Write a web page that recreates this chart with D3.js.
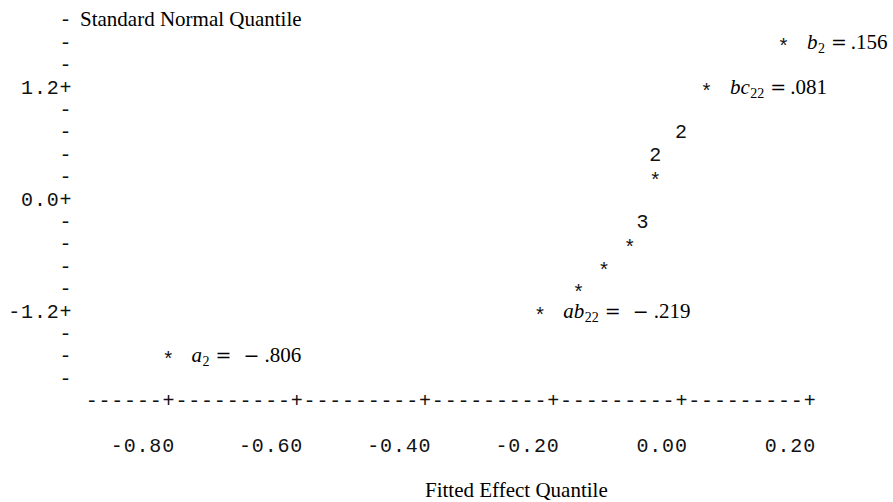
<!DOCTYPE html>
<html>
<head>
<meta charset="utf-8">
<script src="https://cdn.jsdelivr.net/npm/d3@7"></script>
<style>
  body { margin: 0; background: #fff; }
  .mono { font-family: "Liberation Mono", monospace; font-size: 20px; letter-spacing: 0.82px; fill: #111; }
  .serif { font-family: "Liberation Serif", serif; font-size: 21px; white-space: pre; }
  .op { font-family: "DejaVu Serif", serif; font-size: 19px; }
</style>
</head>
<body>
<div id="chart"></div>
<script>
// plotted effects: fitted effect (x) vs standard normal quantile (y), symbol = count
var pointX = [0.16, 0.04, 0.00, -0.04, -0.04, -0.06, -0.08, -0.12, -0.16, -0.22, -0.80];
var pointY = [1.68, 1.20, 0.72, 0.48, 0.24, -0.24, -0.48, -0.72, -0.96, -1.20, -1.68];
var pointSym = ['*', '*', '2', '2', '*', '3', '*', '*', '*', '*', '*'];

// labelled effects
var labelPoint = [0, 1, 9, 10];
var labelName = ['b', 'bc', 'ab', 'a'];
var labelSub = ['2', '22', '22', '2'];
var labelNeg = [false, false, true, true];
var labelValue = ['.156', '.081', '.219', '.806'];

var xTicks = [-0.80, -0.60, -0.40, -0.20, 0.00, 0.20];
var xTickLabels = ['-0.80', '-0.60', '-0.40', '-0.20', '0.00', '0.20'];
var yTicks = [1.2, 0.0, -1.2];
var yTickLabels = ['1.2', '0.0', '-1.2'];

var width = 893;
var height = 502;

// character grid of the line printer plot
var cw = 12.82;
var rh = 22.4;
var col0 = 66;
var row0 = 19.4;
function colX(c) { return col0 + c * cw; }
function rowY(r) { return row0 + r * rh; }

var svg = d3.select('#chart')
    .append('svg')
    .attr('width', width)
    .attr('height', height);

var x = d3.scaleLinear()
    .domain([-0.80, 0.20])
    .range([colX(8), colX(58)]);

var y = d3.scaleLinear()
    .domain([1.92, -1.92])
    .range([rowY(0), rowY(16)]);

var monoDy = 7;
var starDy = 11;

// vertical axis: one mark per text row
var yRows = d3.range(17).map(function(r) { return 1.92 - 0.24 * r; });

svg.selectAll('text.ymark')
    .data(yRows)
    .enter()
    .append('text')
    .attr('class', 'mono ymark')
    .attr('text-anchor', 'end')
    .attr('x', colX(0) + cw / 2)
    .attr('y', function(d) { return y(d) + monoDy; })
    .text(function(d) {
        var i = yTicks.findIndex(function(t) { return Math.abs(t - d) < 1e-6; });
        return i >= 0 ? yTickLabels[i] + '+' : '-';
    });

svg.append('text')
    .attr('class', 'serif')
    .attr('x', 80)
    .attr('y', y(1.92) + 7)
    .text('Standard Normal Quantile');

// horizontal axis line
var axisStr = '------+';
for (var k = 1; k < xTicks.length; k++) axisStr += '---------+';
svg.append('text')
    .attr('class', 'mono')
    .attr('x', x(-0.80) - 6 * cw - 6)
    .attr('y', rowY(17) + monoDy)
    .text(axisStr);

svg.selectAll('text.xlab')
    .data(xTicks)
    .enter()
    .append('text')
    .attr('class', 'mono xlab')
    .attr('text-anchor', 'end')
    .attr('x', function(d) { return x(d) + cw / 2; })
    .attr('y', rowY(19) + monoDy)
    .text(function(d, i) { return xTickLabels[i]; });

svg.append('text')
    .attr('class', 'serif')
    .attr('x', 425)
    .attr('y', rowY(21) + 7)
    .text('Fitted Effect Quantile');

// points
svg.selectAll('text.pt')
    .data(pointX)
    .enter()
    .append('text')
    .attr('class', 'mono pt')
    .attr('text-anchor', 'middle')
    .attr('x', function(d) { return x(d); })
    .attr('y', function(d, i) { return y(pointY[i]) + (pointSym[i] === '*' ? starDy : monoDy); })
    .text(function(d, i) { return pointSym[i]; });

// labels, typeset like math
var labels = svg.selectAll('text.lab')
    .data(labelPoint)
    .enter()
    .append('text')
    .attr('class', 'serif lab')
    .attr('x', function(d) { return x(pointX[d]) + 23; })
    .attr('y', function(d) { return y(pointY[d]) + 7; });

labels.append('tspan')
    .style('font-style', 'italic')
    .text(function(d, i) { return labelName[i]; });
labels.append('tspan')
    .attr('dy', 4)
    .attr('dx', 0.5)
    .style('font-size', '14px')
    .text(function(d, i) { return labelSub[i]; });
labels.append('tspan')
    .attr('class', 'op')
    .attr('dy', -4)
    .attr('dx', 6)
    .text('=');
labels.filter(function(d, i) { return labelNeg[i]; })
    .append('tspan')
    .attr('class', 'op')
    .attr('dx', 12)
    .text('\u2212');
labels.append('tspan')
    .attr('dx', function(d, i) { return labelNeg[i] ? 5 : 4; })
    .text(function(d, i) { return labelValue[i]; });
</script>
</body>
</html>
